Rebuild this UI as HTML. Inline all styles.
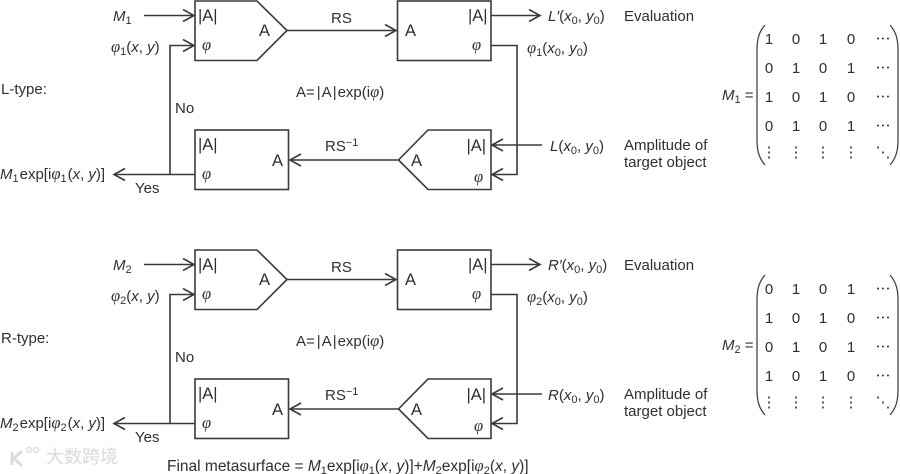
<!DOCTYPE html>
<html><head><meta charset="utf-8"><style>
html,body{margin:0;padding:0;background:#fff}
svg{display:block}
text{font-family:"Liberation Sans","Noto Sans CJK SC",sans-serif;font-size:15px;fill:#2f2f2f}
.i{font-style:italic}
.p{font-family:"Liberation Serif",serif;font-style:italic;font-size:16.5px}
.s{font-size:11px}
.a{font-size:16.5px}
.l{fill:none;stroke:#3a3a3a;stroke-width:1.6}
.h{fill:none;stroke:#3a3a3a;stroke-width:1.6}
</style></head><body>
<svg width="900" height="474" viewBox="0 0 900 474" xmlns="http://www.w3.org/2000/svg">
<defs>
<g id="blk">
<path class="l" d="M195 1H257L287 30.500L257 60.500H195Z"/>
<rect class="l" x="397.500" y="1" width="93.500" height="59.500"/>
<rect class="l" x="195" y="130" width="93.500" height="59.500"/>
<path class="l" d="M491 130H428L398.500 160L428 189.500H491Z"/>
<path class="l" d="M144 15.500H194M287 30.500H396M491 15.500H540M491 45.500H517V174.500H492M542 145H492M398 160H290M195 174.500H114M170 174.500V45.500H194"/>
<path class="h" d="M183 9.500L194 15.500L183 21.500M183 39.500L194 45.500L183 51.500M385 24.500L396 30.500L385 36.500M529 9.500L540 15.500L529 21.500M503 139L492 145L503 151M503 168.500L492 174.500L503 180.500M301 154L290 160L301 166M125 168.500L114 174.500L125 180.500"/>
<text class="a" x="198" y="21">|A|</text>
<text class="p" x="202" y="50">φ</text>
<text class="a" x="259" y="36">A</text>
<text class="a" x="405" y="36">A</text>
<text class="a" x="468" y="21">|A|</text>
<text class="p" x="472" y="50">φ</text>
<text class="a" x="198" y="150">|A|</text>
<text class="p" x="202" y="179">φ</text>
<text class="a" x="272" y="166">A</text>
<text class="a" x="466.500" y="151">|A|</text>
<text class="p" x="474" y="182">φ</text>
<text class="a" x="411" y="166">A</text>
<text x="331" y="23">RS</text>
<text x="325" y="151">RS<tspan class="s" dy="-5">−1</tspan></text>
<text x="296" y="97">A=<tspan dx="2">|</tspan><tspan dx="1">A</tspan><tspan dx="1">|</tspan><tspan dx="1">exp(i</tspan><tspan class="p">φ</tspan>)</text>
<text x="175" y="113">No</text>
<text x="135" y="193">Yes</text>
<text x="624" y="21">Evaluation</text>
<text x="624" y="150">Amplitude of</text>
<text x="624" y="167">target object</text>
</g>
<path id="lp" d="M765 0C758 8 757 16 757 26V114C757 124 758 132 765 140" fill="none" stroke="#444" stroke-width="1.300"/>
<path id="rp" d="M890 0C897 8 898 16 898 26V114C898 124 897 132 890 140" fill="none" stroke="#444" stroke-width="1.300"/>
</defs>

<use href="#blk"/>
<use href="#blk" y="249"/>

<text class="i" x="113" y="21">M<tspan class="s" dy="3" style="font-style:normal">1</tspan></text>
<text x="111" y="52"><tspan class="p">φ</tspan><tspan class="s" dy="3">1</tspan><tspan dy="-3">(</tspan><tspan class="i">x</tspan>, <tspan class="i">y</tspan>)</text>
<text x="1" y="94">L-type:</text>
<text x="0" y="179"><tspan class="i">M</tspan><tspan class="s" dy="3">1</tspan><tspan dy="-3" dx="1">exp[i</tspan><tspan class="p">φ</tspan><tspan class="s" dy="3">1</tspan><tspan dy="-3" dx="1">(</tspan><tspan class="i">x</tspan>, <tspan class="i">y</tspan>)]</text>
<text x="548" y="21"><tspan class="i">L′</tspan>(<tspan class="i">x</tspan><tspan class="s" dy="3">0</tspan><tspan dy="-3">, </tspan><tspan class="i">y</tspan><tspan class="s" dy="3">0</tspan><tspan dy="-3">)</tspan></text>
<text x="527" y="53"><tspan class="p">φ</tspan><tspan class="s" dy="3">1</tspan><tspan dy="-3">(</tspan><tspan class="i">x</tspan><tspan class="s" dy="3">0</tspan><tspan dy="-3">, </tspan><tspan class="i">y</tspan><tspan class="s" dy="3">0</tspan><tspan dy="-3">)</tspan></text>
<text x="550" y="151"><tspan class="i">L</tspan>(<tspan class="i">x</tspan><tspan class="s" dy="3">0</tspan><tspan dy="-3">, </tspan><tspan class="i">y</tspan><tspan class="s" dy="3">0</tspan><tspan dy="-3">)</tspan></text>

<text class="i" x="113" y="270">M<tspan class="s" dy="3" style="font-style:normal">2</tspan></text>
<text x="111" y="301"><tspan class="p">φ</tspan><tspan class="s" dy="3">2</tspan><tspan dy="-3">(</tspan><tspan class="i">x</tspan>, <tspan class="i">y</tspan>)</text>
<text x="1" y="343">R-type:</text>
<text x="0" y="428"><tspan class="i">M</tspan><tspan class="s" dy="3">2</tspan><tspan dy="-3" dx="1">exp[i</tspan><tspan class="p">φ</tspan><tspan class="s" dy="3">2</tspan><tspan dy="-3" dx="1">(</tspan><tspan class="i">x</tspan>, <tspan class="i">y</tspan>)]</text>
<text x="548" y="270"><tspan class="i">R′</tspan>(<tspan class="i">x</tspan><tspan class="s" dy="3">0</tspan><tspan dy="-3">, </tspan><tspan class="i">y</tspan><tspan class="s" dy="3">0</tspan><tspan dy="-3">)</tspan></text>
<text x="527" y="302"><tspan class="p">φ</tspan><tspan class="s" dy="3">2</tspan><tspan dy="-3">(</tspan><tspan class="i">x</tspan><tspan class="s" dy="3">0</tspan><tspan dy="-3">, </tspan><tspan class="i">y</tspan><tspan class="s" dy="3">0</tspan><tspan dy="-3">)</tspan></text>
<text x="548" y="400"><tspan class="i">R</tspan>(<tspan class="i">x</tspan><tspan class="s" dy="3">0</tspan><tspan dy="-3">, </tspan><tspan class="i">y</tspan><tspan class="s" dy="3">0</tspan><tspan dy="-3">)</tspan></text>

<text x="167" y="471" style="font-size:15.5px">Final metasurface = <tspan class="i">M</tspan><tspan class="s" dy="3">1</tspan><tspan dy="-3">exp[i</tspan><tspan class="p">φ</tspan><tspan class="s" dy="3">1</tspan><tspan dy="-3">(</tspan><tspan class="i">x</tspan>, <tspan class="i">y</tspan>)]+<tspan class="i">M</tspan><tspan class="s" dy="3">2</tspan><tspan dy="-3">exp[i</tspan><tspan class="p">φ</tspan><tspan class="s" dy="3">2</tspan><tspan dy="-3">(</tspan><tspan class="i">x</tspan>, <tspan class="i">y</tspan>)]</text>

<use href="#lp" y="25"/><use href="#rp" y="25"/>
<text x="722" y="100"><tspan class="i">M</tspan><tspan class="s" dy="3">1</tspan><tspan dy="-3"> =</tspan></text>
<g text-anchor="middle">
<text x="769" y="44">1</text><text x="796" y="44">0</text><text x="823" y="44">1</text><text x="851" y="44">0</text><text x="883" y="44">⋯</text>
<text x="769" y="73">0</text><text x="796" y="73">1</text><text x="823" y="73">0</text><text x="851" y="73">1</text><text x="883" y="73">⋯</text>
<text x="769" y="102">1</text><text x="796" y="102">0</text><text x="823" y="102">1</text><text x="851" y="102">0</text><text x="883" y="102">⋯</text>
<text x="769" y="131">0</text><text x="796" y="131">1</text><text x="823" y="131">0</text><text x="851" y="131">1</text><text x="883" y="131">⋯</text>
<text x="769" y="157">⋮</text><text x="796" y="157">⋮</text><text x="823" y="157">⋮</text><text x="851" y="157">⋮</text><text x="883" y="157">⋱</text>
</g>

<use href="#lp" y="275"/><use href="#rp" y="275"/>
<text x="722" y="350"><tspan class="i">M</tspan><tspan class="s" dy="3">2</tspan><tspan dy="-3"> =</tspan></text>
<g text-anchor="middle">
<text x="769" y="294">0</text><text x="796" y="294">1</text><text x="823" y="294">0</text><text x="851" y="294">1</text><text x="883" y="294">⋯</text>
<text x="769" y="323">1</text><text x="796" y="323">0</text><text x="823" y="323">1</text><text x="851" y="323">0</text><text x="883" y="323">⋯</text>
<text x="769" y="352">0</text><text x="796" y="352">1</text><text x="823" y="352">0</text><text x="851" y="352">1</text><text x="883" y="352">⋯</text>
<text x="769" y="381">1</text><text x="796" y="381">0</text><text x="823" y="381">1</text><text x="851" y="381">0</text><text x="883" y="381">⋯</text>
<text x="769" y="407">⋮</text><text x="796" y="407">⋮</text><text x="823" y="407">⋮</text><text x="851" y="407">⋮</text><text x="883" y="407">⋱</text>
</g>

<g opacity="0.9">
<path d="M12 452V465M22 451L14 458L22 466" fill="none" stroke="#d8d8d8" stroke-width="3"/>
<circle cx="29" cy="450" r="2.500" fill="none" stroke="#dcdcdc" stroke-width="1.500"/>
<circle cx="36" cy="450" r="2.500" fill="none" stroke="#dcdcdc" stroke-width="1.500"/>
<text x="46" y="463" style="font-size:18px;fill:#d6d6d6">大数跨境</text>
</g>
</svg>
</body></html>
